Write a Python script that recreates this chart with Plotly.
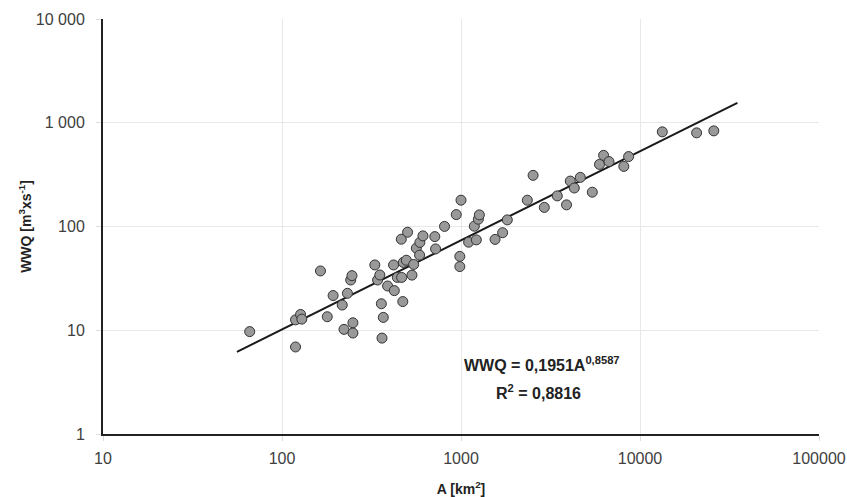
import plotly.graph_objects as go

# Catchment area A [km2] and WWQ [m3/s]
area = [66, 119, 119, 127, 129, 164, 179, 193, 217, 232, 222, 249, 249, 242, 246,
        330, 342, 352, 389, 424, 359, 368, 362, 473, 420, 441, 466, 476, 495, 532,
        544, 464, 503, 563, 589, 587, 613, 714, 721, 809, 985, 985, 1103, 1218, 1187,
        1250, 1266, 941, 1000, 1550, 1708, 1814, 2347, 2920, 3451, 3886, 2528, 4079,
        4295, 4640, 5414, 5938, 6261, 6711, 8121, 8637, 13320, 20710, 25840]
wwq = [9.7, 6.9, 12.6, 14.2, 12.8, 37.3, 13.5, 21.6, 17.5, 22.7, 10.2, 11.8, 9.4, 30.5, 33.6,
       42.6, 30.5, 34.1, 26.7, 24.1, 18.0, 13.3, 8.4, 18.9, 42.6, 32.3, 32.3, 45.1, 47.3, 34.0,
       43.1, 75.4, 88.1, 61.8, 70.2, 53.0, 81.2, 79.9, 60.8, 100.2, 51.5, 41.1, 70.6, 74.3, 100.7,
       117.6, 129.4, 130.2, 179.3, 75.1, 87.1, 115.8, 179.3, 152.8, 197.3, 161.6, 311.1, 274,
       235, 297.5, 214.2, 397, 485, 422.6, 379.7, 472, 817, 799, 835]

# Power-law fit WWQ = a * A^b
fit_a = 0.1951
fit_b = 0.8587
fit_r2 = 0.8816
fit_range = [56, 35000]

x_ticks = [10, 100, 1000, 10000, 100000]
x_ticktext = ["10", "100", "1000", "10000", "100000"]
y_ticks = [1, 10, 100, 1000, 10000]
y_ticktext = ["1", "10", "100", "1 000", "10 000"]

fit_y = [fit_a * a ** fit_b for a in fit_range]

fig = go.Figure()
fig.add_trace(go.Scatter(
    x=fit_range, y=fit_y, mode="lines",
    line=dict(color="#1a1a1a", width=2), showlegend=False, hoverinfo="skip"))
fig.add_trace(go.Scatter(
    x=area, y=wwq, mode="markers",
    marker=dict(size=10, color="#999999", line=dict(color="#333333", width=1)),
    showlegend=False))

def fmt(v, d):
    return f"{v:.{d}f}".replace(".", ",")

ann_font = dict(family="Liberation Sans, Arial", size=16, color="#222222")
fig.add_annotation(
    x=0.613, y=0.169, xref="paper", yref="paper", xanchor="center", yanchor="middle",
    text=f"<b>WWQ = {fmt(fit_a, 4)}A<sup>{fmt(fit_b, 4)}</sup></b>",
    showarrow=False, font=ann_font)
fig.add_annotation(
    x=0.608, y=0.101, xref="paper", yref="paper", xanchor="center", yanchor="middle",
    text=f"<b>R<sup>2</sup> = {fmt(fit_r2, 4)}</b>",
    showarrow=False, font=ann_font)

fig.update_layout(
    width=847, height=497,
    margin=dict(l=103, r=28, t=19, b=63),
    plot_bgcolor="white", paper_bgcolor="white",
    font=dict(family="Liberation Sans, Arial", size=16, color="#404040"),
    xaxis=dict(
        type="log", range=[1, 5], tickvals=x_ticks, ticktext=x_ticktext,
        automargin=False, ticklabelstandoff=4,
        showgrid=True, gridcolor="#e8e8e8", gridwidth=1,
        showline=True, linecolor="#222222", linewidth=2,
        ticks="outside", ticklen=5, tickcolor="#dddddd",
        zeroline=False,
        title=dict(text="<b>A [km<sup>2</sup>]</b>", font=dict(size=14, color="#222222"), standoff=18)),
    yaxis=dict(
        type="log", range=[0, 4], tickvals=y_ticks, ticktext=y_ticktext,
        automargin=False, ticklabelstandoff=8,
        showgrid=True, gridcolor="#e8e8e8", gridwidth=1,
        showline=True, linecolor="#222222", linewidth=2,
        ticks="outside", ticklen=5, tickcolor="#dddddd",
        zeroline=False,
        title=dict(text="<b>WWQ [m<sup>3</sup>xs<sup>-1</sup>]</b>", font=dict(size=14, color="#222222"), standoff=1)),
)

fig.write_html("out.html")
